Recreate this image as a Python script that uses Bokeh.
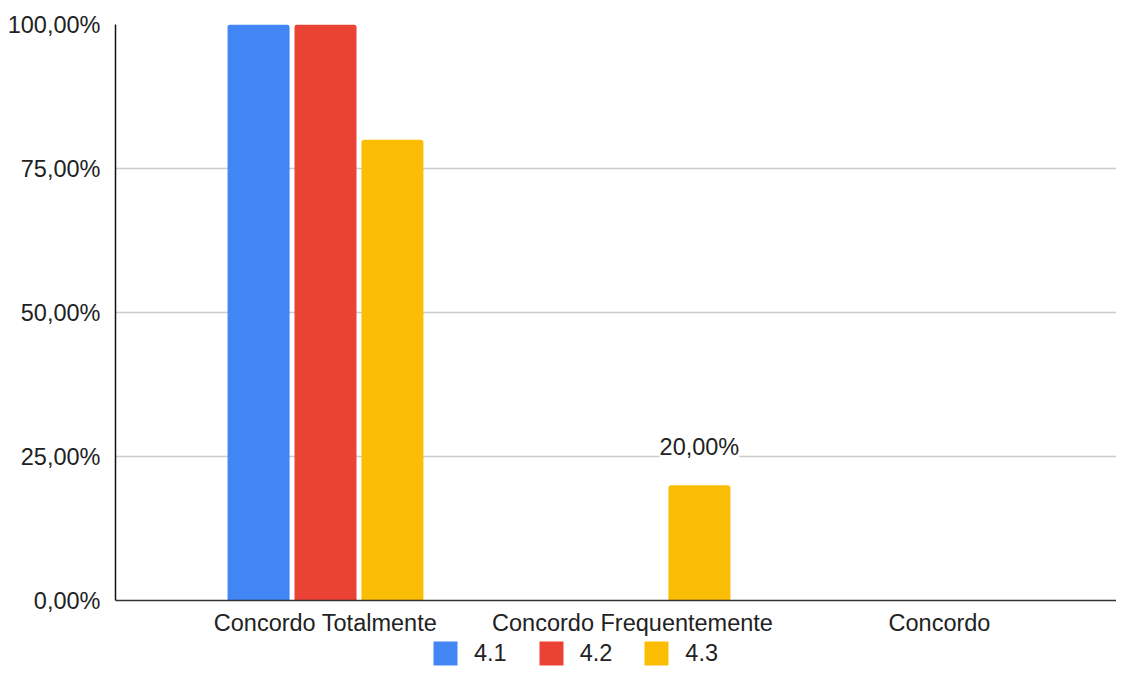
from bokeh.plotting import figure
from bokeh.models import (Range1d, FixedTicker, ColumnDataSource, Legend, LegendItem,
                          LabelSet, Span)
from bokeh.transform import dodge
from bokeh.core.properties import value
from bokeh.embed import file_html
from bokeh.resources import INLINE

categories = ["Concordo Totalmente", "Concordo Frequentemente", "Concordo"]
series_names = ["4.1", "4.2", "4.3"]
s41 = [1.0, 0.0, 0.0]
s42 = [1.0, 0.0, 0.0]
s43 = [0.8, 0.2, 0.0]
s43_labels = ["", "20,00%", ""]
y_ticks = [0.0, 0.25, 0.5, 0.75, 1.0]
y_tick_labels = ["0,00%", "25,00%", "50,00%", "75,00%", "100,00%"]
colors = ["#4285F4", "#EA4335", "#FBBC04"]

FONT = "Liberation Sans"
FS = "23.5px"
TXT = "#222222"
xpos = list(range(len(categories)))
zeros = [0.0] * len(categories)

src = ColumnDataSource(dict(x=xpos, y0=zeros, cat=categories,
                            s41=s41, s42=s42, s43=s43, lab=s43_labels))

W, H = 1116, 666
LEFT, TOP = 115, 24
PX_PER_UNIT_Y = 576.0   # pixels for 0..100 %
PX_PER_GROUP = 307.0
y_bottom = -(H - TOP - PX_PER_UNIT_Y) / PX_PER_UNIT_Y
x_start = -210.0 / PX_PER_GROUP
x_end = x_start + (W - LEFT) / PX_PER_GROUP

p = figure(width=W, height=H, output_backend="svg", toolbar_location=None,
           x_range=Range1d(x_start, x_end), y_range=Range1d(y_bottom, 1),
           min_border_left=LEFT, min_border_right=0, min_border_top=TOP,
           min_border_bottom=0)
p.outline_line_color = None
p.background_fill_color = "white"
p.border_fill_color = "white"

offs = [-0.218, 0.0, 0.218]
renderers = []
for col, off, field in zip(colors, offs, ["s41", "s42", "s43"]):
    r = p.vbar(x=dodge("x", off, range=p.x_range), top=field, width=0.202, bottom=0,
               source=src, fill_color=col, line_color=None, border_radius=(3, 3, 0, 0))
    renderers.append(r)

labels = LabelSet(x=dodge("x", 0.218, range=p.x_range), y="s43", text="lab", source=src,
                  text_align="center", text_baseline="alphabetic", y_offset=30,
                  text_font=value(FONT), text_font_size=FS, text_color=TXT,
                  background_fill_color="white")
p.add_layout(labels)

# x axis: baseline + category labels
p.xaxis.visible = False
p.add_layout(Span(location=0, dimension="width", line_color="#333333", line_width=1.5))
cat_labels = LabelSet(x="x", y="y0", text="cat", source=src, text_align="center",
                      text_baseline="alphabetic", y_offset=-30,
                      text_font=value(FONT), text_font_size=FS, text_color=TXT)
p.add_layout(cat_labels)

# y axis
p.yaxis.ticker = FixedTicker(ticks=y_ticks)
p.yaxis.major_label_overrides = {t: l for t, l in zip(y_ticks, y_tick_labels)}
p.yaxis.bounds = (0, 1)
p.yaxis.major_tick_line_color = None
p.yaxis.minor_tick_line_color = None
p.yaxis.axis_line_color = "#111111"
p.yaxis.axis_line_width = 1.5
p.yaxis.major_label_text_font = FONT
p.yaxis.major_label_text_font_size = FS
p.yaxis.major_label_text_color = TXT
p.yaxis.major_label_standoff = 9

p.xgrid.grid_line_color = None
p.ygrid.ticker = FixedTicker(ticks=y_ticks[1:])
p.ygrid.grid_line_color = "#cccccc"
p.ygrid.grid_line_width = 1.5

legend = Legend(items=[LegendItem(label=n, renderers=[r]) for n, r in zip(series_names, renderers)],
                orientation="horizontal", location=(430 - LEFT, -2),
                glyph_width=30, glyph_height=30, label_standoff=14, spacing=29,
                label_text_font=FONT, label_text_font_size=FS, label_text_color=TXT,
                padding=0, margin=0, border_line_color=None, background_fill_alpha=0,
                label_height=30)
p.add_layout(legend, "center")

open("out.html", "w").write(file_html(p, INLINE))
